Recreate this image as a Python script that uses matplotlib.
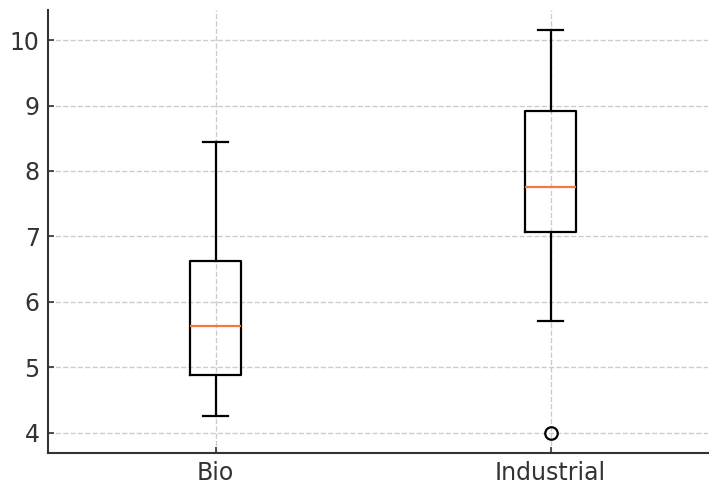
import matplotlib.pyplot as plt

# box statistics
labels = ['Bio', 'Industrial']
whislo = [4.26, 5.70]
q1 = [4.88, 7.06]
med = [5.63, 7.75]
q3 = [6.63, 8.91]
whishi = [8.45, 10.15]
fliers = [[], [4.0]]

stats = []
for i in range(len(labels)):
    stats.append({'label': labels[i], 'whislo': whislo[i], 'q1': q1[i], 'med': med[i],
                  'q3': q3[i], 'whishi': whishi[i], 'fliers': fliers[i]})

fig = plt.figure(figsize=(7.09, 4.86), dpi=100)
ax = fig.add_axes([48 / 709, 1 - 453 / 486, 660 / 709, 443 / 486])

lw = 1.6
ax.bxp(stats, positions=[1, 2], widths=0.15,
       boxprops=dict(color='black', linewidth=lw),
       whiskerprops=dict(color='black', linewidth=lw),
       capprops=dict(color='black', linewidth=lw),
       medianprops=dict(color='#f5793a', linewidth=lw),
       flierprops=dict(marker='o', markerfacecolor='none', markeredgecolor='black',
                       markersize=9, markeredgewidth=lw))

ax.set_xlim(0.5, 2.47)
ax.set_ylim(3.69, 10.46)
ax.set_yticks(range(4, 11))
ax.grid(True, linestyle='--', color='#cccccc', linewidth=1)
ax.set_axisbelow(True)

for s in ['top', 'right']:
    ax.spines[s].set_visible(False)
for s in ['left', 'bottom']:
    ax.spines[s].set_color('#333333')
    ax.spines[s].set_linewidth(1.5)
ax.tick_params(labelsize=17, colors='#333333', direction='in', length=4, width=1.2)
ax.tick_params(axis='y', pad=6)
ax.tick_params(axis='x', pad=6)

fig.savefig('out.png', dpi=100)
